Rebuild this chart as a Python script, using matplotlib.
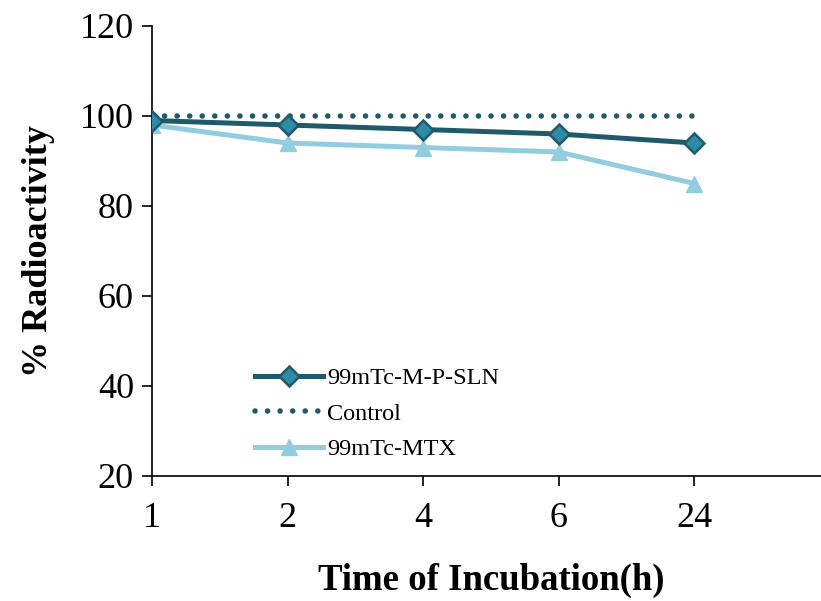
import matplotlib.pyplot as plt

plt.rcParams['font.family'] = ['Liberation Serif', 'DejaVu Serif']

# data
times = ['1', '2', '4', '6', '24']
sln = [99, 98, 97, 96, 94]
control = [100, 100, 100, 100, 100]
mtx = [98, 94, 93, 92, 85]

x = list(range(len(times)))

fig = plt.figure(figsize=(8.21, 6.01), dpi=100)
ax = fig.add_axes([152 / 821, 125 / 601, 678 / 821, 450 / 601])

ax.plot(x, sln, color='#1f5a6b', linewidth=3.6, marker='D', markersize=10,
        markerfacecolor='#2e8ba6', markeredgecolor='#1f5a6b', markeredgewidth=1.8,
        label='99mTc-M-P-SLN', zorder=3)
ax.plot(x, control, color='#1f5a6b', linewidth=4, linestyle=(0, (0.01, 2.25)),
        dash_capstyle='round', label='Control', zorder=2)
ax.plot(x, mtx, color='#92cddf', linewidth=3.6, marker='^', markersize=12,
        label='99mTc-MTX', zorder=2)

ax.set_xlim(0, 5)
ax.set_ylim(20, 120)
ax.set_xticks(x)
ax.set_xticklabels(times)
ax.set_yticks(range(20, 121, 20))
ax.tick_params(axis='both', labelsize=26, direction='out', length=7, width=1.2)
ax.tick_params(axis='x', pad=12)
ax.tick_params(axis='y', pad=6)
for side in ['top', 'right']:
    ax.spines[side].set_visible(False)
for side in ['left', 'bottom']:
    ax.spines[side].set_linewidth(1.2)

ax.set_xlabel('Time of Incubation(h)', fontsize=26.5, fontweight='bold', labelpad=20)
ax.set_ylabel('% Radioactivity', fontsize=26, fontweight='bold', labelpad=18)

ax.legend(loc='upper left', bbox_to_anchor=(0.12, 0.29), frameon=False,
          fontsize=17.5, handlelength=2.8, handletextpad=0.15, labelspacing=0.55)

fig.savefig('out.png', dpi=100)
